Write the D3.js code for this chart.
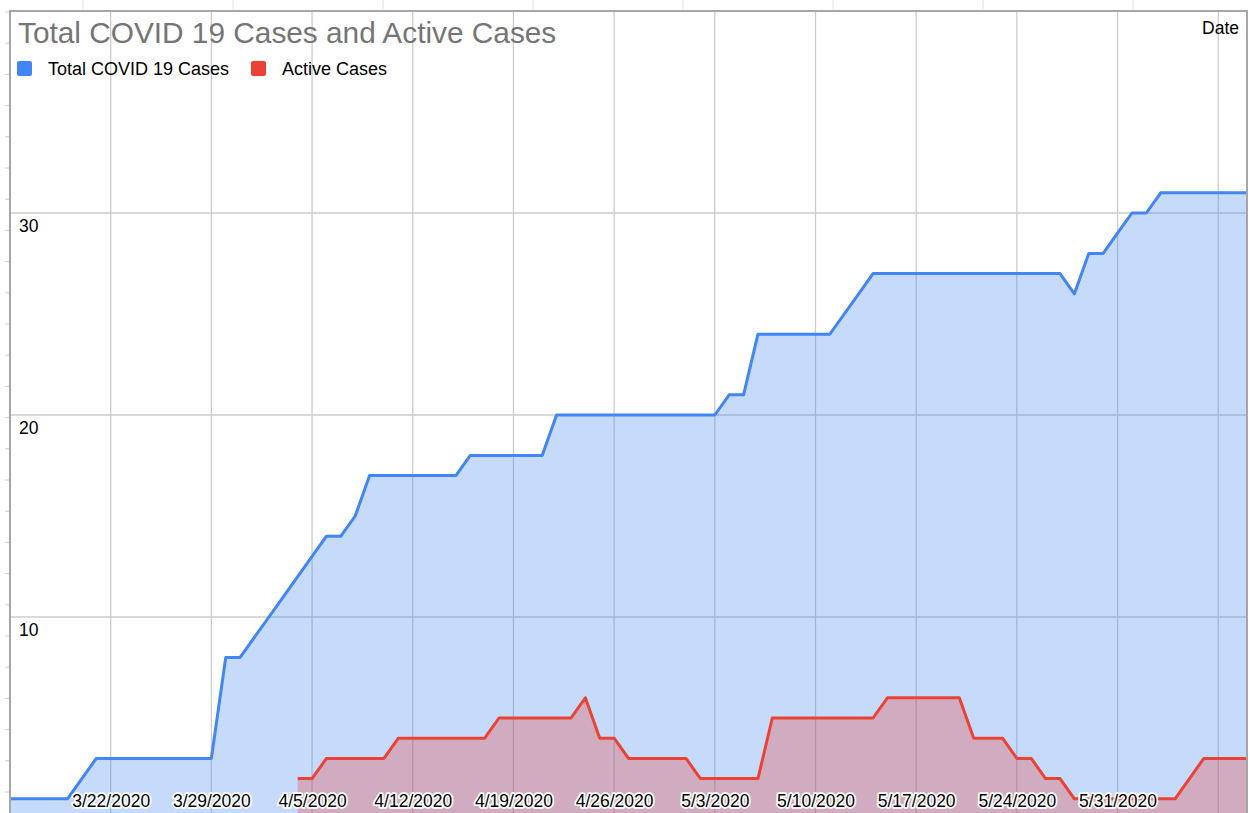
<!DOCTYPE html>
<html>
<head>
<meta charset="utf-8">
<script src="https://cdn.jsdelivr.net/npm/d3@7"></script>
<style>
  html, body { margin: 0; padding: 0; background: #fff; overflow: hidden; }
  svg { display: block; font-family: "Liberation Sans", Arial, sans-serif; }
</style>
</head>
<body>
<div id="chart"></div>
<script>
var dates = [
  "3/15/2020","3/16/2020","3/17/2020","3/18/2020","3/19/2020","3/20/2020","3/21/2020",
  "3/22/2020","3/23/2020","3/24/2020","3/25/2020","3/26/2020","3/27/2020","3/28/2020",
  "3/29/2020","3/30/2020","3/31/2020","4/1/2020","4/2/2020","4/3/2020","4/4/2020",
  "4/5/2020","4/6/2020","4/7/2020","4/8/2020","4/9/2020","4/10/2020","4/11/2020",
  "4/12/2020","4/13/2020","4/14/2020","4/15/2020","4/16/2020","4/17/2020","4/18/2020",
  "4/19/2020","4/20/2020","4/21/2020","4/22/2020","4/23/2020","4/24/2020","4/25/2020",
  "4/26/2020","4/27/2020","4/28/2020","4/29/2020","4/30/2020","5/1/2020","5/2/2020",
  "5/3/2020","5/4/2020","5/5/2020","5/6/2020","5/7/2020","5/8/2020","5/9/2020",
  "5/10/2020","5/11/2020","5/12/2020","5/13/2020","5/14/2020","5/15/2020","5/16/2020",
  "5/17/2020","5/18/2020","5/19/2020","5/20/2020","5/21/2020","5/22/2020","5/23/2020",
  "5/24/2020","5/25/2020","5/26/2020","5/27/2020","5/28/2020","5/29/2020","5/30/2020",
  "5/31/2020","6/1/2020","6/2/2020","6/3/2020","6/4/2020","6/5/2020","6/6/2020",
  "6/7/2020","6/8/2020","6/9/2020"
];

var totalCases = [
  1, 1, 1, 1, 1, 2, 3,
  3, 3, 3, 3, 3, 3, 3,
  3, 8, 8, 9, 10, 11, 12,
  13, 14, 14, 15, 17, 17, 17,
  17, 17, 17, 17, 18, 18, 18,
  18, 18, 18, 20, 20, 20, 20,
  20, 20, 20, 20, 20, 20, 20,
  20, 21, 21, 24, 24, 24, 24,
  24, 24, 25, 26, 27, 27, 27,
  27, 27, 27, 27, 27, 27, 27,
  27, 27, 27, 27, 26, 28, 28,
  29, 30, 30, 31, 31, 31, 31,
  31, 31, 31
];

var activeCases = [
  null, null, null, null, null, null, null,
  null, null, null, null, null, null, null,
  null, null, null, null, null, null, 2,
  2, 3, 3, 3, 3, 3, 4,
  4, 4, 4, 4, 4, 4, 5,
  5, 5, 5, 5, 5, 6, 4,
  4, 3, 3, 3, 3, 3, 2,
  2, 2, 2, 2, 5, 5, 5,
  5, 5, 5, 5, 5, 6, 6,
  6, 6, 6, 6, 4, 4, 4,
  3, 3, 2, 2, 1, 1, 1,
  1, 1, 1, 1, 1, 2, 3,
  3, 3, 3
];

var gridDates = ["3/22/2020","3/29/2020","4/5/2020","4/12/2020","4/19/2020","4/26/2020",
  "5/3/2020","5/10/2020","5/17/2020","5/24/2020","5/31/2020","6/7/2020"];
var xTickLabels = ["3/22/2020","3/29/2020","4/5/2020","4/12/2020","4/19/2020","4/26/2020",
  "5/3/2020","5/10/2020","5/17/2020","5/24/2020","5/31/2020"];
var yTicks = [10, 20, 30];
var yGrid = [0, 10, 20, 30, 40];

var width = 1250, height = 813;
// plot box; the 0 baseline falls just below the visible window
var plotLeft = 10, plotRight = 1247, plotTop = 11, plotBottom = 819;

var parse = d3.timeParse("%m/%d/%Y");
var rows = dates.map(function(d, i) {
  return { date: parse(d), total: totalCases[i], active: activeCases[i] };
});

var x = d3.scaleTime()
  .domain(d3.extent(rows, function(d) { return d.date; }))
  .range([plotLeft, plotRight]);

var y = d3.scaleLinear()
  .domain([0, 40])
  .range([plotBottom, plotTop]);

var svg = d3.select('#chart')
  .append('svg')
  .attr('width', width)
  .attr('height', height);

// faint spreadsheet cell lines around the embedded chart
svg.append('g')
  .selectAll('line')
  .data(d3.range(83, width, 150))
  .enter()
  .append('line')
  .attr('x1', function(d) { return d; })
  .attr('x2', function(d) { return d; })
  .attr('y1', 0)
  .attr('y2', plotTop - 2)
  .attr('stroke', '#e0e0e0');

svg.append('g')
  .selectAll('line')
  .data(d3.range(12, height, 31.2))
  .enter()
  .append('line')
  .attr('x1', 5)
  .attr('x2', plotLeft - 1)
  .attr('y1', function(d) { return d; })
  .attr('y2', function(d) { return d; })
  .attr('stroke', '#d0d0d0');

var plot = svg.append('g');

plot.selectAll('.hgrid')
  .data(yGrid)
  .enter()
  .append('line')
  .attr('class', 'hgrid')
  .attr('x1', plotLeft)
  .attr('x2', plotRight)
  .attr('y1', function(d) { return y(d); })
  .attr('y2', function(d) { return y(d); })
  .attr('stroke', '#cccccc')
  .attr('stroke-width', 1.3);

plot.selectAll('.vgrid')
  .data(gridDates)
  .enter()
  .append('line')
  .attr('class', 'vgrid')
  .attr('x1', function(d) { return x(parse(d)); })
  .attr('x2', function(d) { return x(parse(d)); })
  .attr('y1', plotTop)
  .attr('y2', plotBottom)
  .attr('stroke', '#cccccc')
  .attr('stroke-width', 1.3);

var series = [
  { key: 'total', name: 'Total COVID 19 Cases', color: '#4285f4' },
  { key: 'active', name: 'Active Cases', color: '#ea4335' }
];

series.forEach(function(s) {
  var area = d3.area()
    .defined(function(d) { return d[s.key] != null; })
    .x(function(d) { return x(d.date); })
    .y0(y(0))
    .y1(function(d) { return y(d[s.key]); });

  plot.append('path')
    .datum(rows)
    .attr('d', area)
    .attr('fill', s.color)
    .attr('fill-opacity', 0.3);
});

series.forEach(function(s) {
  var line = d3.line()
    .defined(function(d) { return d[s.key] != null; })
    .x(function(d) { return x(d.date); })
    .y(function(d) { return y(d[s.key]); });

  plot.append('path')
    .datum(rows)
    .attr('d', line)
    .attr('fill', 'none')
    .attr('stroke', s.color)
    .attr('stroke-width', 3)
    .attr('stroke-linejoin', 'round');
});

// chart frame
svg.append('rect')
  .attr('x', plotLeft)
  .attr('y', plotTop)
  .attr('width', plotRight - plotLeft)
  .attr('height', plotBottom - plotTop + 10)
  .attr('fill', 'none')
  .attr('stroke', '#a6a6a6')
  .attr('stroke-width', 2);

// y labels sit just under their gridline, inside the plot
var yAxis = svg.append('g')
  .attr('transform', 'translate(' + (plotLeft + 9) + ',18)')
  .call(d3.axisRight(y).tickValues(yTicks).tickSize(0).tickPadding(0));
yAxis.select('.domain').remove();
yAxis.selectAll('text')
  .attr('x', 0)
  .attr('dy', null)
  .attr('text-anchor', 'start')
  .attr('font-size', '17.5px')
  .attr('font-family', '"Liberation Sans", Arial, sans-serif')
  .attr('fill', '#000');

var xAxis = svg.append('g')
  .attr('transform', 'translate(0,807)')
  .call(d3.axisBottom(x)
    .tickValues(xTickLabels.map(parse))
    .tickFormat(d3.timeFormat('%-m/%-d/%Y'))
    .tickSize(0));
xAxis.select('.domain').remove();
xAxis.selectAll('text')
  .attr('y', 0)
  .attr('dy', null)
  .attr('font-size', '17.5px')
  .attr('font-family', '"Liberation Sans", Arial, sans-serif')
  .attr('fill', '#000')
  .attr('stroke', '#fff')
  .attr('stroke-width', 3.5)
  .attr('stroke-linejoin', 'round')
  .attr('paint-order', 'stroke');

svg.append('text')
  .attr('x', 1239)
  .attr('y', 34)
  .attr('text-anchor', 'end')
  .attr('font-size', '17.5px')
  .attr('fill', '#000')
  .text('Date');

svg.append('text')
  .attr('x', 18)
  .attr('y', 43)
  .attr('font-size', '29.8px')
  .attr('fill', '#757575')
  .text('Total COVID 19 Cases and Active Cases');

var legend = svg.append('g')
  .attr('transform', 'translate(17,61)');

var legendX = [0, 234];
series.forEach(function(s, i) {
  var item = legend.append('g')
    .attr('transform', 'translate(' + legendX[i] + ',0)');
  item.append('rect')
    .attr('width', 15)
    .attr('height', 15)
    .attr('rx', 2)
    .attr('fill', s.color);
  item.append('text')
    .attr('x', 31)
    .attr('y', 14)
    .attr('font-size', '18px')
    .attr('fill', '#000')
    .text(s.name);
});
</script>
</body>
</html>
